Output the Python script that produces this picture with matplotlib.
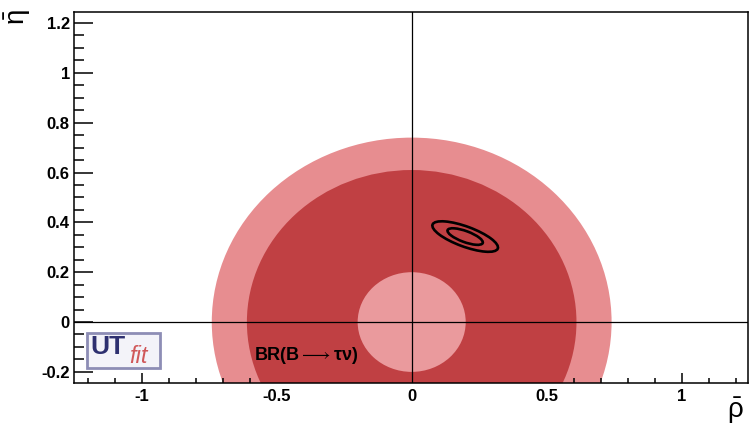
"""Unitarity-triangle constraint from BR(B -> tau nu) in the (rho-bar, eta-bar) plane."""

import matplotlib

matplotlib.use("Agg")
import matplotlib.pyplot as plt
from matplotlib.patches import Circle, Ellipse, FancyBboxPatch
from matplotlib.ticker import MultipleLocator

plt.rcParams["font.family"] = ["Liberation Sans", "DejaVu Sans"]
plt.rcParams["mathtext.fontset"] = "custom"
plt.rcParams["mathtext.rm"] = "Liberation Sans"
plt.rcParams["mathtext.it"] = "Liberation Sans:italic"
plt.rcParams["mathtext.bf"] = "Liberation Sans:bold"

# Annular bands allowed by BR(B->tau nu), centred at the origin
band_outer = [0.74, 0.61]        # 95% band: outer / inner radius
band_core = [0.61, 0.20]         # 68% band: outer / inner radius
band_colors = ["#e78d90", "#c04043", "#ea9a9d"]

# Global fit contours (68% and 95%)
fit_center = (0.198, 0.343)
fit_semi_major = [0.130, 0.070]
fit_semi_minor = [0.040, 0.022]
fit_angle = -22.0

x_range = (-1.25, 1.245)
y_range = (-0.245, 1.244)

fig = plt.figure(figsize=(7.52, 4.29), dpi=100)
ax = fig.add_axes([0.0984, 0.107, 0.8963, 0.865])

# Bands: drawn outermost first, inner disc painted back in lighter colour
ax.add_patch(Circle((0, 0), band_outer[0], facecolor=band_colors[0],
                    edgecolor="none", zorder=1))
ax.add_patch(Circle((0, 0), band_core[0], facecolor=band_colors[1],
                    edgecolor="none", zorder=2))
ax.add_patch(Circle((0, 0), band_core[1], facecolor=band_colors[2],
                    edgecolor="none", zorder=3))

for a, b in zip(fit_semi_major, fit_semi_minor):
    ax.add_patch(Ellipse(fit_center, 2 * a, 2 * b, angle=fit_angle,
                         facecolor="none", edgecolor="black", lw=1.9, zorder=5))

ax.axhline(0, color="black", lw=0.9, zorder=4)
ax.axvline(0, color="black", lw=0.9, zorder=4)

ax.set_xlim(*x_range)
ax.set_ylim(*y_range)

ax.xaxis.set_major_locator(MultipleLocator(0.5))
ax.xaxis.set_minor_locator(MultipleLocator(0.1))
ax.yaxis.set_major_locator(MultipleLocator(0.2))
ax.yaxis.set_minor_locator(MultipleLocator(0.05))

ax.tick_params(axis="both", which="both", direction="in", top=False, right=False,
               width=1.1, labelsize=12, zorder=6)
ax.tick_params(axis="x", which="major", length=7, pad=4)
ax.tick_params(axis="x", which="minor", length=3.5)
ax.tick_params(axis="y", which="major", length=14, pad=3)
ax.tick_params(axis="y", which="minor", length=7)

ax.xaxis.set_major_formatter(plt.FuncFormatter(lambda v, _: f"{v:g}"))
ax.yaxis.set_major_formatter(plt.FuncFormatter(lambda v, _: f"{v:g}"))
for lab in ax.get_xticklabels() + ax.get_yticklabels():
    lab.set_fontweight("bold")

for side in ax.spines.values():
    side.set_linewidth(1.1)
    side.set_zorder(7)

# Axis titles in the corners
ax.text(0.994, -0.075, r"$\bar{\mathrm{\rho}}$", transform=ax.transAxes,
        ha="right", va="center", fontsize=20)
ax.text(-0.083, 1.008, r"$\bar{\mathrm{\eta}}$", transform=ax.transAxes,
        ha="center", va="top", rotation=90, fontsize=20)

ax.text(-0.585, -0.135, "BR(B$\\longrightarrow$τν)", fontsize=13,
        fontweight="bold", ha="left", va="center", zorder=6)

# UTfit logo
logo = FancyBboxPatch((0.0195, 0.041), 0.108, 0.094, transform=ax.transAxes,
                      boxstyle="square,pad=0", facecolor="#f3f3f9",
                      edgecolor="#8d8db5", lw=2.0, zorder=8)
ax.add_patch(logo)
ax.text(0.025, 0.097, "UT", transform=ax.transAxes, fontsize=19,
        fontweight="bold", color="#2e3070", ha="left", va="center", zorder=9)
ax.text(0.082, 0.072, "fit", transform=ax.transAxes, fontsize=17,
        style="italic", color="#d0585a", ha="left", va="center", zorder=9)

fig.savefig("out.png", dpi=100)
